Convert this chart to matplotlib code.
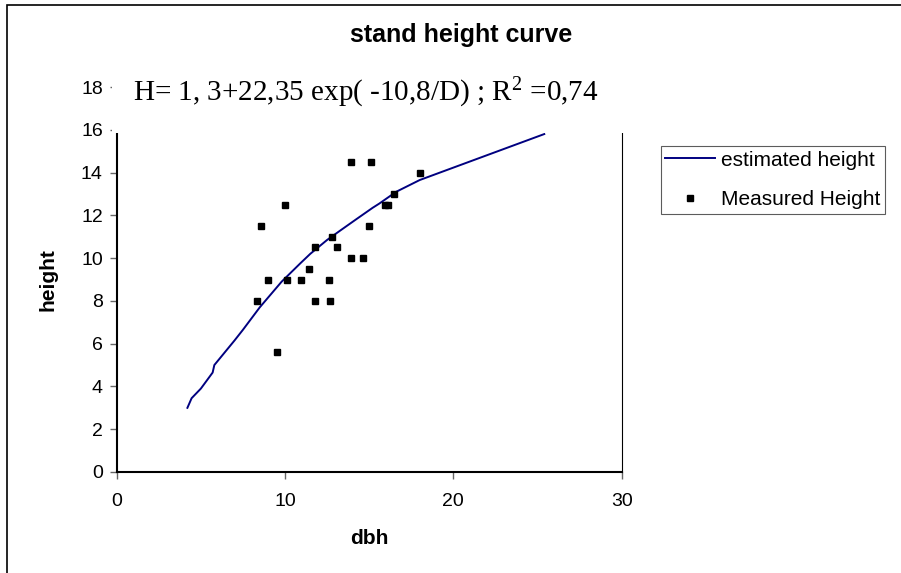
import matplotlib.pyplot as plt
from matplotlib.patches import Rectangle
import numpy as np

# measured trees
dbh = [13.9, 15.1, 18.0, 16.5, 15.95, 16.1, 10.0, 8.55, 15.0, 12.8, 11.8, 13.1,
       13.9, 14.65, 11.4, 9.0, 10.1, 10.95, 12.6, 8.35, 11.8, 12.7, 9.55]
height = [14.5, 14.5, 14.0, 13.0, 12.5, 12.5, 12.5, 11.5, 11.5, 11.0, 10.5, 10.5,
          10.0, 10.0, 9.5, 9.0, 9.0, 9.0, 9.0, 8.0, 8.0, 8.0, 5.6]

# estimated curve
est_dbh = [4.2, 4.45, 5.0, 5.7, 5.8, 7.0, 7.5, 8.5, 9.8, 10.9, 11.5, 12.5, 13.3,
           14.2, 15.2, 15.6, 16.6, 18.0, 25.4]
est_height = [3.0, 3.45, 3.9, 4.65, 5.0, 6.15, 6.65, 7.7, 8.9, 9.75, 10.2, 10.85,
              11.3, 11.8, 12.35, 12.55, 13.1, 13.65, 15.8]

x_ticks = [0, 10, 20, 30]
y_ticks = [0, 2, 4, 6, 8, 10, 12, 14, 16, 18]

plt.rcParams['font.family'] = ['Liberation Sans', 'DejaVu Sans']
plt.rcParams['mathtext.fontset'] = 'custom'
plt.rcParams['mathtext.rm'] = 'Liberation Serif'
plt.rcParams['mathtext.it'] = 'Liberation Serif'

W, H = 901, 573
fig = plt.figure(figsize=(W / 100, H / 100), dpi=100)
ax = fig.add_axes([116.7 / W, 1 - 472 / H, (621.7 - 116.7) / W, (472 - 87) / H])

ax.plot(est_dbh, est_height, color='#000080', lw=1.4, label='estimated height')
ax.plot(dbh, height, ls='none', marker='s', ms=5, color='black',
        label='Measured Height')

ax.set_xlim(0, 30)
ax.set_ylim(0, 18)
ax.set_xticks(x_ticks)
ax.set_yticks(y_ticks)
ax.tick_params(axis='both', direction='out', length=5, width=1, color='#666666',
               labelsize=14)
ax.tick_params(axis='x', pad=10)
ax.tick_params(axis='y', pad=5)
ax.spines['top'].set_visible(False)
ax.spines['left'].set_linewidth(1.5)
ax.spines['bottom'].set_linewidth(1.5)
ax.spines['right'].set_linewidth(0.8)

ax.set_xlabel('dbh', fontsize=15, fontweight='bold', labelpad=14)
ax.set_ylabel('height', fontsize=15, fontweight='bold', labelpad=17)

# white text box of the equation hides the top of the plot area
fig.add_artist(Rectangle((112 / W, 1 - 133 / H), 530 / W, 76 / H,
                         transform=fig.transFigure, facecolor='white',
                         edgecolor='none', zorder=5))
fig.text(366 / W, 1 - 93 / H,
         r'H= 1, 3+22,35 exp( -10,8/D) ; R$^2$ =0,74',
         fontsize=21, family='Liberation Serif', ha='center', va='center',
         zorder=6)

fig.text(461 / W, 1 - 35 / H, 'stand height curve', fontsize=18,
         fontweight='bold', ha='center', va='center')

leg = ax.legend(loc='upper left', bbox_to_anchor=(661 / W, 1 - 146.5 / H),
                bbox_transform=fig.transFigure, fontsize=15, frameon=True,
                fancybox=False, edgecolor='#333333', handlelength=2.4,
                handletextpad=0.3, borderpad=0.2, labelspacing=1.0,
                borderaxespad=0)
leg.get_frame().set_linewidth(0.8)

# outer chart border (right and bottom are cut off in the original)
fig.add_artist(Rectangle((7 / W, -0.1), 1.2, 1.1 - 5 / H,
                         transform=fig.transFigure, fill=False,
                         edgecolor='black', lw=1.2))

fig.savefig('out.png', dpi=100)
